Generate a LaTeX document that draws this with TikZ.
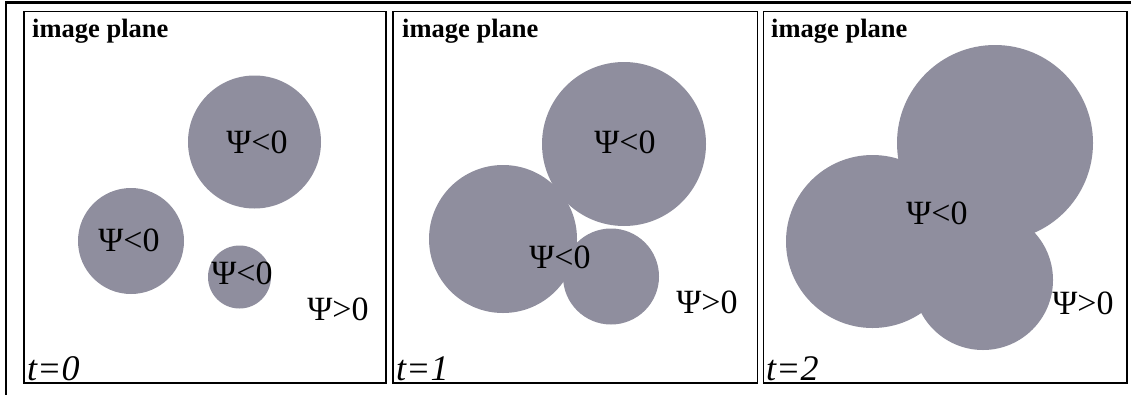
\documentclass[tikz,border=0pt]{standalone}
\usepackage{fontspec}
\setmainfont{Liberation Serif}
\begin{document}
\begin{tikzpicture}[x=1pt,y=-1pt,
  blob/.style={circle,fill=blobc,draw=none,inner sep=0pt},
  panel/.style={draw=black,line width=1.8pt},
  psi/.style={inner sep=0pt,font=\fontsize{34}{40}\selectfont},
  title/.style={inner sep=0pt,anchor=base west,font=\fontsize{26.5}{30}\selectfont\bfseries},
  tlab/.style={inner sep=0pt,anchor=base west,font=\fontsize{36}{40}\selectfont\itshape}]
\definecolor{blobc}{RGB}{143,142,158}
\useasboundingbox (0,0) rectangle (1131,394);
\fill[white] (0,0) rectangle (1131,394);
% outer frame (top and left visible)
\draw[line width=2.6pt] (6,400) -- (6,2.5) -- (1140,2.5);
% panels
\draw[panel] (24,11.5) rectangle (386,383);
\draw[panel] (393,11.5) rectangle (757.5,383);
\draw[panel] (763.5,11.5) rectangle (1127,383);
% panel 1
\node[blob,minimum size=133pt] (a1) at (254.5,142) {};
\node[blob,minimum size=106pt] (b1) at (131,241) {};
\node[blob,minimum size=63pt] (c1) at (239.5,277) {};
\node[psi] (la1) at (257,142) {Ψ<0};
\node[psi] (lb1) at (129,240) {Ψ<0};
\node[psi] (lc1) at (242,273) {Ψ<0};
\node[psi] (lp1) at (338,309) {Ψ>0};
\node[title] (ti1) at (32,37) {image plane};
\node[tlab] (t1) at (27,380) {t=0};
% panel 2
\node[blob,minimum size=164pt] (a2) at (624,144) {};
\node[blob,minimum size=148pt] (b2) at (503,239) {};
\node[blob,minimum size=96pt] (c2) at (611,276.5) {};
\node[psi] (la2) at (625,142) {Ψ<0};
\node[psi] (lb2) at (560,257) {Ψ<0};
\node[psi] (lp2) at (707,302) {Ψ>0};
\node[title] (ti2) at (402,37) {image plane};
\node[tlab] (t2) at (396,380) {t=1};
% panel 3
\node[blob,minimum size=196pt] (a3) at (995,143) {};
\node[blob,minimum size=173pt] (b3) at (872.5,241.5) {};
\node[blob,minimum size=140pt] (c3) at (983,280) {};
\node[psi] (la3) at (937,213) {Ψ<0};
\node[psi] (lp3) at (1083,303) {Ψ>0};
\node[title] (ti3) at (771,37) {image plane};
\node[tlab] (t3) at (766,380) {t=2};
\end{tikzpicture}
\end{document}
